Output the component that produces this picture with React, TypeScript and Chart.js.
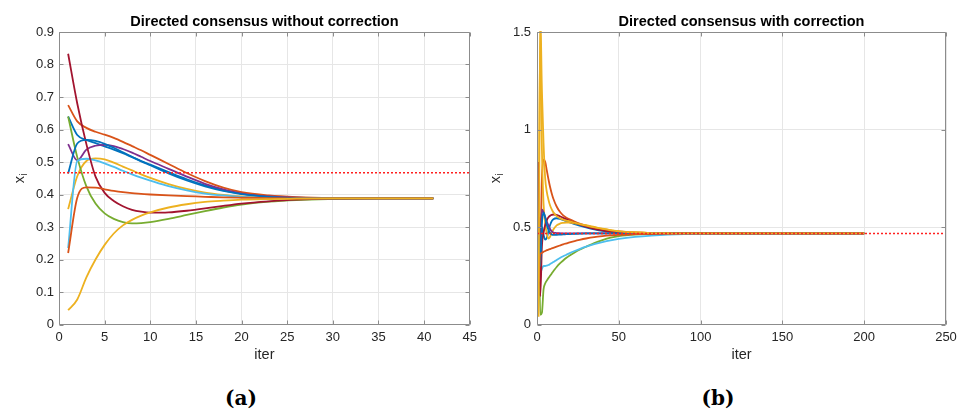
import React, { useEffect, useRef } from 'react';
import { Chart, registerables } from 'chart.js';

Chart.register(...registerables);

// ---------- shared ----------
const lineColors = ['#0072BD', '#D95319', '#EDB120', '#7E2F8E', '#77AC30', '#4DBEEE', '#A2142F', '#0072BD', '#D95319', '#EDB120'];

// ---------- left panel: without correction ----------
const leftTitle = 'Directed consensus without correction';
const leftIters = [1, 2, 3, 4, 5, 6, 7, 8, 9, 10, 12, 14, 16, 18, 20, 23, 26, 30, 35, 41];
const leftAgent1 = [0.64, 0.583, 0.568, 0.558, 0.548, 0.538, 0.527, 0.515, 0.503, 0.492, 0.469, 0.447, 0.428, 0.413, 0.403, 0.394, 0.39, 0.388, 0.388, 0.388];
const leftAgent2 = [0.675, 0.625, 0.605, 0.593, 0.584, 0.574, 0.562, 0.549, 0.536, 0.522, 0.494, 0.466, 0.441, 0.421, 0.407, 0.397, 0.392, 0.389, 0.388, 0.388];
const leftAgent3 = [0.355, 0.456, 0.503, 0.511, 0.508, 0.498, 0.486, 0.474, 0.462, 0.451, 0.432, 0.417, 0.406, 0.399, 0.394, 0.39, 0.389, 0.388, 0.388, 0.388];
const leftAgent4 = [0.555, 0.505, 0.538, 0.55, 0.553, 0.549, 0.54, 0.529, 0.516, 0.503, 0.479, 0.455, 0.433, 0.416, 0.403, 0.394, 0.39, 0.388, 0.388, 0.388];
const leftAgent5 = [0.64, 0.515, 0.425, 0.372, 0.342, 0.325, 0.315, 0.311, 0.312, 0.315, 0.325, 0.337, 0.349, 0.36, 0.369, 0.378, 0.383, 0.386, 0.388, 0.388];
const leftAgent6 = [0.235, 0.503, 0.51, 0.505, 0.496, 0.485, 0.473, 0.462, 0.452, 0.443, 0.426, 0.413, 0.403, 0.397, 0.393, 0.39, 0.389, 0.388, 0.388, 0.388];
const leftAgent7 = [0.833, 0.68, 0.555, 0.455, 0.405, 0.38, 0.364, 0.353, 0.347, 0.344, 0.345, 0.35, 0.357, 0.365, 0.372, 0.379, 0.384, 0.387, 0.388, 0.388];
const leftAgent8 = [0.465, 0.557, 0.568, 0.565, 0.556, 0.544, 0.53, 0.516, 0.502, 0.49, 0.465, 0.443, 0.425, 0.411, 0.401, 0.393, 0.389, 0.388, 0.388, 0.388];
const leftAgent9 = [0.22, 0.39, 0.422, 0.421, 0.416, 0.411, 0.407, 0.404, 0.402, 0.4, 0.397, 0.395, 0.393, 0.391, 0.39, 0.389, 0.388, 0.388, 0.388, 0.388];
const leftAgent10 = [0.044, 0.077, 0.145, 0.2, 0.245, 0.28, 0.305, 0.322, 0.335, 0.345, 0.36, 0.37, 0.377, 0.381, 0.384, 0.386, 0.387, 0.388, 0.388, 0.388];
const leftAverage = 0.467;
const leftAverageSpan = [0, 45];
const leftXTicks = [0, 5, 10, 15, 20, 25, 30, 35, 40, 45];
const leftYTicks = [0, 0.1, 0.2, 0.3, 0.4, 0.5, 0.6, 0.7, 0.8, 0.9];

// ---------- right panel: with correction ----------
const rightTitle = 'Directed consensus with correction';
const rightIters = [1, 2, 3, 4, 5, 6, 7, 8, 9, 10, 12, 14, 16, 18, 20, 23, 26, 30, 35, 40, 45, 50, 60, 70, 80, 90, 100, 120, 150, 200];
const rightAgent1 = [0.64, 0.25, 0.5, 0.46, 0.435, 0.445, 0.48, 0.51, 0.53, 0.54, 0.545, 0.542, 0.536, 0.53, 0.524, 0.515, 0.507, 0.498, 0.488, 0.48, 0.475, 0.472, 0.469, 0.468, 0.467, 0.467, 0.467, 0.467, 0.467, 0.467];
const rightAgent2 = [0.675, 0.4, 0.75, 0.845, 0.835, 0.79, 0.745, 0.705, 0.672, 0.645, 0.605, 0.578, 0.56, 0.548, 0.539, 0.528, 0.518, 0.507, 0.496, 0.487, 0.481, 0.477, 0.472, 0.469, 0.468, 0.467, 0.467, 0.467, 0.467, 0.467];
const rightAgent3 = [0.355, 1.55, 0.9, 0.62, 0.52, 0.465, 0.44, 0.45, 0.47, 0.487, 0.508, 0.517, 0.521, 0.523, 0.522, 0.519, 0.515, 0.509, 0.5, 0.491, 0.484, 0.478, 0.472, 0.469, 0.468, 0.467, 0.467, 0.467, 0.467, 0.467];
const rightAgent4 = [0.555, 0.3, 0.59, 0.575, 0.55, 0.528, 0.508, 0.49, 0.478, 0.472, 0.469, 0.468, 0.467, 0.467, 0.467, 0.467, 0.467, 0.467, 0.467, 0.467, 0.467, 0.467, 0.467, 0.467, 0.467, 0.467, 0.467, 0.467, 0.467, 0.467];
const rightAgent5 = [0.64, 0.05, 0.06, 0.18, 0.21, 0.225, 0.238, 0.25, 0.262, 0.273, 0.295, 0.313, 0.328, 0.342, 0.354, 0.369, 0.383, 0.399, 0.418, 0.433, 0.445, 0.453, 0.461, 0.464, 0.466, 0.467, 0.467, 0.467, 0.467, 0.467];
const rightAgent6 = [0.235, 0.26, 0.285, 0.3, 0.3, 0.302, 0.305, 0.31, 0.315, 0.32, 0.331, 0.341, 0.35, 0.358, 0.366, 0.377, 0.387, 0.399, 0.412, 0.423, 0.432, 0.439, 0.449, 0.456, 0.461, 0.464, 0.465, 0.466, 0.467, 0.467];
const rightAgent7 = [0.833, 0.145, 0.4, 0.47, 0.51, 0.535, 0.55, 0.558, 0.562, 0.564, 0.562, 0.555, 0.547, 0.539, 0.532, 0.522, 0.513, 0.502, 0.491, 0.483, 0.477, 0.473, 0.469, 0.468, 0.467, 0.467, 0.467, 0.467, 0.467, 0.467];
const rightAgent8 = [0.465, 0.3, 0.52, 0.573, 0.55, 0.51, 0.485, 0.47, 0.462, 0.46, 0.46, 0.461, 0.462, 0.463, 0.464, 0.465, 0.466, 0.467, 0.467, 0.467, 0.467, 0.467, 0.467, 0.467, 0.467, 0.467, 0.467, 0.467, 0.467, 0.467];
const rightAgent9 = [0.22, 0.36, 0.368, 0.373, 0.377, 0.381, 0.384, 0.387, 0.39, 0.393, 0.399, 0.405, 0.411, 0.416, 0.421, 0.428, 0.434, 0.441, 0.448, 0.453, 0.457, 0.46, 0.463, 0.465, 0.466, 0.467, 0.467, 0.467, 0.467, 0.467];
const rightAgent10 = [0.04, 1.6, 1.2, 0.93, 0.75, 0.68, 0.64, 0.61, 0.59, 0.575, 0.556, 0.545, 0.538, 0.533, 0.529, 0.522, 0.515, 0.507, 0.498, 0.49, 0.483, 0.478, 0.472, 0.469, 0.468, 0.467, 0.467, 0.467, 0.467, 0.467];
const rightAverage = 0.467;
const rightAverageSpan = [0, 250];
const rightXTicks = [0, 50, 100, 150, 200, 250];
const rightYTicks = [0, 0.5, 1, 1.5];

const leftSeries = [leftAgent1, leftAgent2, leftAgent3, leftAgent4, leftAgent5, leftAgent6, leftAgent7, leftAgent8, leftAgent9, leftAgent10];
const rightSeries = [rightAgent1, rightAgent2, rightAgent3, rightAgent4, rightAgent5, rightAgent6, rightAgent7, rightAgent8, rightAgent9, rightAgent10];

const SANS = '"Liberation Sans", Arial, Helvetica, sans-serif';
const AXIS_GRAY = '#8c8c8c';
const TEXT = '#262626';

const framePlugin = {
  id: 'frame',
  afterDraw(chart: any, _args: any, opts: any) {
    const { ctx, chartArea } = chart;
    const { left, right, top, bottom } = chartArea;
    const xs = chart.scales.x;
    const ys = chart.scales.y;
    ctx.save();
    ctx.strokeStyle = AXIS_GRAY;
    ctx.lineWidth = 1;
    const L = Math.round(left) + 0.5;
    const R = Math.round(right) - 0.5;
    const T = Math.round(top) + 0.5;
    const B = Math.round(bottom) - 0.5;
    ctx.beginPath();
    ctx.rect(L, T, R - L, B - T);
    for (const t of xs.ticks) {
      const p = Math.round(xs.getPixelForValue(t.value)) + 0.5;
      ctx.moveTo(p, B); ctx.lineTo(p, B - 4);
      ctx.moveTo(p, T); ctx.lineTo(p, T + 4);
    }
    for (const t of ys.ticks) {
      const p = Math.round(ys.getPixelForValue(t.value)) + 0.5;
      ctx.moveTo(L, p); ctx.lineTo(L + 4, p);
      ctx.moveTo(R, p); ctx.lineTo(R - 4, p);
    }
    ctx.stroke();

    // title
    ctx.fillStyle = '#000';
    ctx.font = 'bold 14.5px ' + SANS;
    ctx.textAlign = 'center';
    ctx.textBaseline = 'middle';
    ctx.fillText(opts.title, (left + right) / 2, opts.titleY);

    // y label x_i (rotated)
    ctx.fillStyle = TEXT;
    ctx.translate(opts.yLabelX, (top + bottom) / 2);
    ctx.rotate(-Math.PI / 2);
    ctx.textAlign = 'left';
    ctx.textBaseline = 'alphabetic';
    ctx.font = '14.5px ' + SANS;
    const wx = ctx.measureText('x').width;
    ctx.font = '10px ' + SANS;
    const wi = ctx.measureText('i').width;
    const start = -(wx + wi + 0.5) / 2;
    ctx.font = '14.5px ' + SANS;
    ctx.fillText('x', start, 0);
    ctx.font = '10px ' + SANS;
    ctx.fillText('i', start + wx + 0.5, 3.5);
    ctx.restore();
  },
};

function makeConfig(p: any) {
  const datasets: any[] = p.series.map((s: number[], i: number) => ({
    data: p.iters.map((x: number, j: number) => ({ x, y: s[j] })),
    borderColor: lineColors[i],
    borderWidth: 1.8,
    pointRadius: 0,
    showLine: true,
    fill: false,
    cubicInterpolationMode: 'monotone',
    clip: 1,
    order: 20 - i,
  }));
  datasets.push({
    data: p.avgSpan.map((x: number) => ({ x, y: p.avg })),
    borderColor: '#FF2020',
    borderWidth: 1.6,
    borderDash: [2, 2],
    pointRadius: 0,
    showLine: true,
    fill: false,
    clip: 1,
    order: 0,
  });
  const tickFont = { family: SANS, size: 13 };
  return {
    type: 'scatter',
    data: { datasets },
    plugins: [framePlugin],
    options: {
      responsive: false,
      maintainAspectRatio: false,
      animation: false,
      events: [],
      layout: { padding: { top: 32, left: 0, right: p.padRight, bottom: 0 } },
      plugins: {
        legend: { display: false },
        tooltip: { enabled: false },
        title: { display: false },
        frame: { title: p.title, titleY: 21.5, yLabelX: p.yLabelX },
      },
      scales: {
        x: {
          type: 'linear',
          min: p.xTicks[0],
          max: p.xTicks[p.xTicks.length - 1],
          afterBuildTicks: (s: any) => { s.ticks = p.xTicks.map((v: number) => ({ value: v })); },
          afterFit: (s: any) => { s.height = 45.5; },
          ticks: { color: TEXT, font: tickFont, padding: 5, maxRotation: 0, autoSkip: false, callback: (v: number) => String(v) },
          grid: { color: '#e6e6e6', drawTicks: false, lineWidth: 1 },
          border: { display: false },
          title: { display: true, text: 'iter', color: TEXT, font: { family: SANS, size: 14.5 }, padding: { top: 0, bottom: 6 } },
        },
        y: {
          type: 'linear',
          min: p.yTicks[0],
          max: p.yTicks[p.yTicks.length - 1],
          afterBuildTicks: (s: any) => { s.ticks = p.yTicks.map((v: number) => ({ value: v })); },
          afterFit: (s: any) => { s.width = p.yWidth; },
          ticks: { color: TEXT, font: tickFont, padding: p.yPad, autoSkip: false, callback: (v: number) => String(v) },
          grid: { color: '#e6e6e6', drawTicks: false, lineWidth: 1 },
          border: { display: false },
        },
      },
    },
  };
}

export default function App() {
  const leftRef = useRef<HTMLCanvasElement>(null);
  const rightRef = useRef<HTMLCanvasElement>(null);

  useEffect(() => {
    const c1 = new Chart(leftRef.current as HTMLCanvasElement, makeConfig({
      series: leftSeries, iters: leftIters, avg: leftAverage, avgSpan: leftAverageSpan,
      xTicks: leftXTicks, yTicks: leftYTicks, title: leftTitle,
      padRight: 10, yWidth: 59, yPad: 5, yLabelX: 23.5,
    }) as any);
    const c2 = new Chart(rightRef.current as HTMLCanvasElement, makeConfig({
      series: rightSeries, iters: rightIters, avg: rightAverage, avgSpan: rightAverageSpan,
      xTicks: rightXTicks, yTicks: rightYTicks, title: rightTitle,
      padRight: 19, yWidth: 55, yPad: 6, yLabelX: 17.5,
    }) as any);
    return () => { c1.destroy(); c2.destroy(); };
  }, []);

  const caption: React.CSSProperties = {
    position: 'absolute', width: 80, textAlign: 'center', top: 385, height: 26, lineHeight: '26px',
    fontFamily: '"DejaVu Serif", "Liberation Serif", serif', fontWeight: 'bold', fontSize: 20, color: '#000',
  };

  return (
    <div style={{ position: 'fixed', left: 0, top: 0, width: 965, height: 409, background: '#fff', overflow: 'hidden' }}>
      <canvas ref={leftRef} width={482} height={370} style={{ position: 'absolute', left: 0, top: 0, width: 482, height: 370 }} />
      <canvas ref={rightRef} width={483} height={370} style={{ position: 'absolute', left: 482, top: 0, width: 483, height: 370 }} />
      <div style={{ ...caption, left: 241 - 40 }}>(a)</div>
      <div style={{ ...caption, left: 718 - 40 }}>(b)</div>
    </div>
  );
}
